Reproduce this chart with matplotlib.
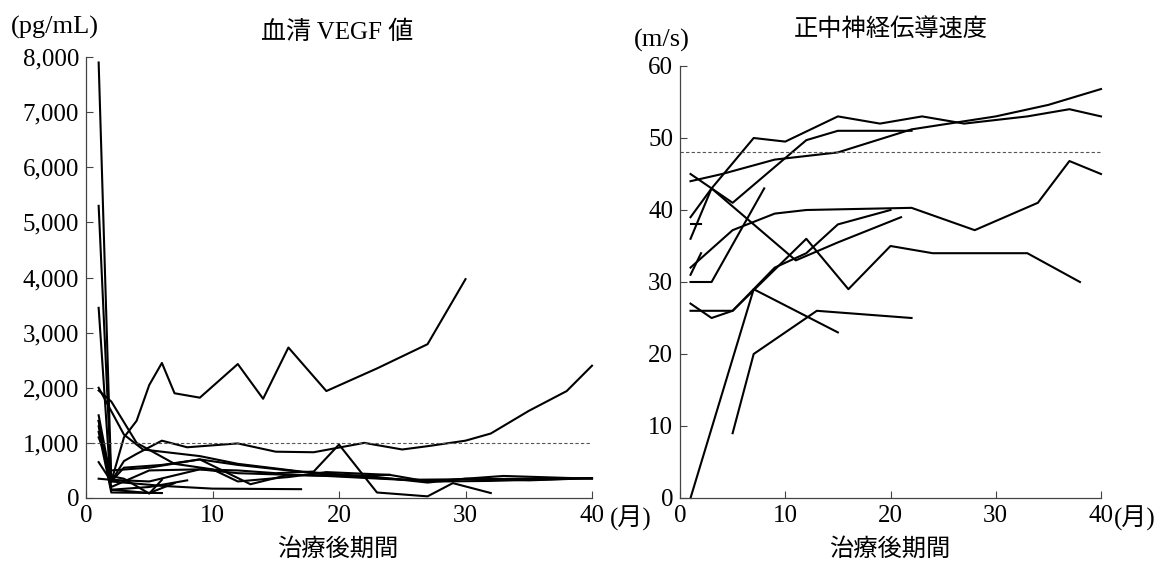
import numpy as np
import matplotlib.pyplot as plt
from matplotlib.ticker import FuncFormatter

plt.rcParams['font.family'] = ['Liberation Serif', 'Noto Sans CJK JP']

# 血清 VEGF 値 (pg/mL), 月ごと
vegf_x = [
    [1, 2, 3, 4, 5, 6, 7, 9, 12, 14, 16, 19, 23, 27, 30],
    [1, 2, 3, 4, 6, 8, 12, 15, 18, 22, 25, 27, 30, 32, 35, 38, 40],
    [1, 2, 5, 9, 12, 15, 18, 20, 23, 27, 29, 32],
    [1, 1.9, 3, 5, 6],
    [1, 3, 4.5, 9, 12, 17, 23, 27, 30, 35, 40],
    [1, 2, 4, 7, 10, 12, 16, 19, 24, 27, 33, 40],
    [1, 2, 3, 6, 9, 13, 16, 20, 24, 28, 32, 40],
    [1, 2, 5, 8],
    [1, 2, 6],
    [1, 2, 6, 10, 17],
    [1, 2, 5, 9, 12, 19, 25, 30, 40],
    [1, 2, 5, 7],
    [1, 2, 5, 9, 12, 16, 20, 24],
]
vegf_y = [
    [7900, 300, 1100, 1400, 2050, 2450, 1900, 1820, 2430, 1800, 2730, 1940, 2350, 2790, 3970],
    [5300, 300, 670, 800, 1040, 920, 990, 840, 830, 1000, 880, 940, 1040, 1170, 1580, 1940, 2400],
    [1400, 200, 500, 520, 500, 450, 480, 970, 100, 30, 270, 90],
    [3450, 400, 350, 80, 330],
    [2000, 1150, 880, 760, 620, 480, 380, 280, 350, 320, 360],
    [1950, 1750, 1000, 620, 520, 300, 380, 470, 420, 300, 400, 350],
    [1500, 300, 550, 600, 700, 250, 420, 400, 350, 300, 310, 360],
    [1300, 150, 200, 320],
    [1200, 100, 90],
    [650, 300, 220, 170, 160],
    [350, 330, 300, 520, 450, 400, 330, 340, 360],
    [1400, 150, 90, 270],
    [1100, 500, 550, 700, 600, 500, 400, 420],
]
vegf_ref = 1000

# 正中神経伝導速度 (m/s)
ncv_x = [
    [1, 3, 8],
    [1, 2],
    [1, 2],
    [1, 5, 9, 12, 22, 28, 34, 37, 40],
    [1, 3, 7, 11, 15, 21],
    [1, 3, 5, 12, 16, 20, 24, 33, 38],
    [1, 5, 7, 15],
    [1, 7, 9, 12, 15, 20],
    [5, 7, 13, 22],
    [1, 3, 7, 10, 15, 19, 23, 27, 33, 37, 40],
    [1, 3, 5, 12, 15, 22],
    [1, 4, 9, 15, 22, 30, 35, 40],
]
ncv_y = [
    [30, 30, 43],
    [31, 34],
    [38, 38],
    [32, 37.2, 39.5, 40, 40.3, 37.2, 41, 46.8, 45],
    [45, 43, 38, 33, 35.5, 39],
    [27, 25, 26, 36, 29, 35, 34, 34, 30],
    [26, 26, 29, 23],
    [0, 29, 32, 34, 38, 40],
    [9, 20, 26, 25],
    [39, 43, 50, 49.5, 53, 52, 53, 52, 53, 54, 53],
    [36, 43, 41, 49.7, 51, 51],
    [44, 45, 47, 48, 51.2, 53, 54.6, 56.8],
]
ncv_ref = 48

W, H = 1156, 568
fig = plt.figure(figsize=(W / 100, H / 100), dpi=100)
ax1 = fig.add_axes([86 / W, 1 - 498 / H, 506 / W, 441 / H])
ax2 = fig.add_axes([680 / W, 1 - 498 / H, 421 / W, 432 / H])

for xs, ys in zip(vegf_x, vegf_y):
    ax1.plot(xs, ys, color='black', lw=1.5, clip_on=False)
for xs, ys in zip(ncv_x, ncv_y):
    ax2.plot(xs, ys, color='black', lw=1.5, clip_on=False)

ax1.axhline(vegf_ref, color='#555555', lw=0.8, ls=(0, (3, 2)))
ax2.axhline(ncv_ref, color='#555555', lw=0.8, ls=(0, (3, 2)))

ax1.set_xlim(0, 40)
ax1.set_ylim(0, 8000)
ax1.set_yticks(range(0, 8001, 1000))
ax1.yaxis.set_major_formatter(FuncFormatter(lambda v, p: f"{int(v):,}"))
ax2.set_xlim(0, 40)
ax2.set_ylim(0, 60)
ax2.set_yticks(range(0, 61, 10))

for ax in (ax1, ax2):
    ax.set_xticks([0, 10, 20, 30, 40])
    for s in ('top', 'right'):
        ax.spines[s].set_visible(False)
    for s in ('left', 'bottom'):
        ax.spines[s].set_color('#444444')
        ax.spines[s].set_linewidth(0.9)
    ax.tick_params(direction='in', length=5, width=0.8, color='#444444',
                   labelsize=18, pad=5)

def px(x, y):
    return x / W, 1 - y / H

fig.text(*px(55, 27), '(pg/mL)', fontsize=19, ha='center', va='center')
fig.text(*px(337, 32), '血清 VEGF 値', fontsize=18, ha='center', va='center')
fig.text(*px(662, 40), '(m/s)', fontsize=19, ha='center', va='center')
fig.text(*px(891, 30), '正中神経伝導速度', fontsize=17.5, ha='center', va='center')
fig.text(*px(631, 518), '(月)', fontsize=18, ha='center', va='center')
fig.text(*px(1135, 518), '(月)', fontsize=18, ha='center', va='center')
fig.text(*px(338, 549), '治療後期間', fontsize=17.5, ha='center', va='center')
fig.text(*px(890, 549), '治療後期間', fontsize=17.5, ha='center', va='center')

plt.savefig('out.png', dpi=100, facecolor='white')
